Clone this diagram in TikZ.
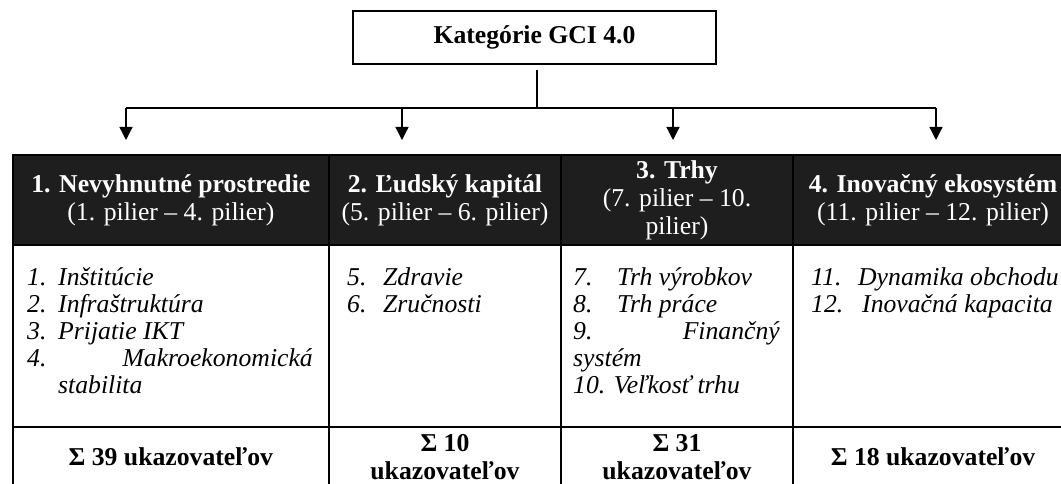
\documentclass[tikz,border=0pt]{standalone}
\usepackage{fontspec}
\setmainfont{Liberation Serif}
\usetikzlibrary{arrows.meta}
\newcommand\myfs{\fontsize{25.7pt}{28pt}\selectfont}
\definecolor{hdr}{RGB}{30,30,30}
\begin{document}
\begin{tikzpicture}[x=1pt,y=-1pt,
  every node/.style={font=\myfs},
  titlebox/.style={draw, line width=1.3pt, inner sep=0pt, minimum width=363pt, minimum height=53pt, font=\myfs\bfseries},
  cell/.style={draw, line width=2pt, inner sep=0pt, align=center},
  hcell/.style={cell, fill=hdr, text=white},
  conn/.style={line width=1.3pt},
  arr/.style={line width=1.3pt, -{Triangle[length=13pt,width=13pt]}, shorten >=14pt},
  item/.style={anchor=base west, inner sep=0pt, font=\myfs\itshape},
  itemr/.style={anchor=base east, inner sep=0pt, font=\myfs\itshape},
  foot/.style={font=\myfs\bfseries}
]
\useasboundingbox (0,0) rectangle (1061,484);
\clip (0,0) rectangle (1061,484);

% title
\node[titlebox] (title) at (534.5,37.5) {Kategórie GCI 4.0};

% table: header row
\node[hcell, minimum width=316.3pt, minimum height=90pt] (h1) at (170.85,200)
  {\textbf{1. Nevyhnutné prostredie}\\(1. pilier – 4. pilier)};
\node[hcell, minimum width=232pt, minimum height=90pt] (h2) at (445,200)
  {\textbf{2. Ľudský kapitál}\\(5. pilier – 6. pilier)};
\node[hcell, minimum width=232pt, minimum height=90pt] (h3) at (677,200)
  {\textbf{3. Trhy}\\(7. pilier – 10.\\pilier)};
\node[hcell, minimum width=280pt, minimum height=90pt] (h4) at (933,200)
  {\textbf{4. Inovačný ekosystém}\\(11. pilier – 12. pilier)};

% body row
\node[cell, minimum width=316.3pt, minimum height=182pt] (b1) at (170.85,336) {};
\node[cell, minimum width=232pt, minimum height=182pt] (b2) at (445,336) {};
\node[cell, minimum width=232pt, minimum height=182pt] (b3) at (677,336) {};
\node[cell, minimum width=280pt, minimum height=182pt] (b4) at (933,336) {};

% footer row
\node[cell, foot, minimum width=316.3pt, minimum height=60pt] (f1) at (170.85,457) {Σ 39 ukazovateľov};
\node[cell, foot, minimum width=232pt, minimum height=60pt] (f2) at (445,457) {Σ 10\\ukazovateľov};
\node[cell, foot, minimum width=232pt, minimum height=60pt] (f3) at (677,457) {Σ 31\\ukazovateľov};
\node[cell, foot, minimum width=280pt, minimum height=60pt] (f4) at (933,457) {Σ 18 ukazovateľov};

% items column 1
\node[item] (i1) at (27,285) {\makebox[31pt][l]{1.}Inštitúcie};
\node[item] (i2) at (27,312) {\makebox[31pt][l]{2.}Infraštruktúra};
\node[item] (i3) at (27,339) {\makebox[31pt][l]{3.}Prijatie IKT};
\node[item] (i4n) at (27,366) {4.};
\node[itemr] (i4) at (313,366) {Makroekonomická};
\node[item] (i4b) at (58,393) {stabilita};

% items column 2
\node[item] (i5) at (347,285) {\makebox[36pt][l]{5.}Zdravie};
\node[item] (i6) at (347,312) {\makebox[36pt][l]{6.}Zručnosti};

% items column 3
\node[item] (i7) at (573,285) {\makebox[44pt][l]{7.}Trh výrobkov};
\node[item] (i8) at (573,312) {\makebox[44pt][l]{8.}Trh práce};
\node[item] (i9n) at (573,339) {9.};
\node[itemr] (i9) at (780,339) {Finančný};
\node[item] (i9b) at (573,366) {systém};
\node[item] (i10) at (573,393) {10. Veľkosť trhu};

% items column 4
\node[item] (i11) at (811,285) {\makebox[47pt][l]{11.}Dynamika obchodu};
\node[item] (i12) at (811,312) {\makebox[51pt][l]{12.}Inovačná kapacita};

% connectors
\coordinate (j) at (537,108);
\coordinate (a1) at (126,108);
\coordinate (a2) at (402,108);
\coordinate (a3) at (673,108);
\coordinate (a4) at (936,108);
\draw[conn] ([yshift=-5pt]title.south -| j) -- (j);
\draw[conn] (a1) -- (a4);
\draw[arr] (a1) -- (a1 |- h1.north);
\draw[arr] (a2) -- (a2 |- h2.north);
\draw[arr] (a3) -- (a3 |- h3.north);
\draw[arr] (a4) -- (a4 |- h4.north);
\end{tikzpicture}
\end{document}
